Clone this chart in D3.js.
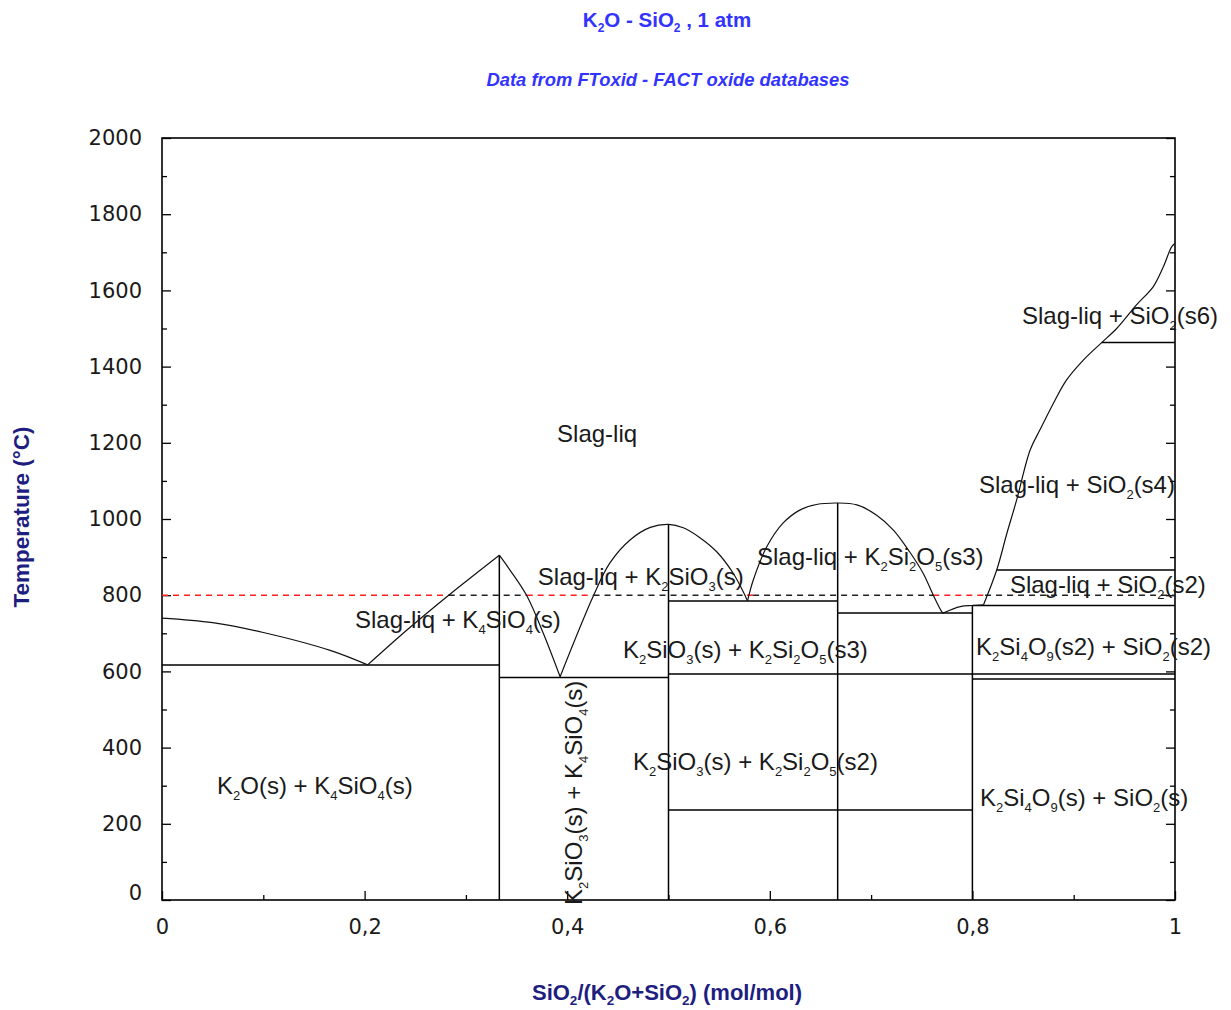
<!DOCTYPE html>
<html>
<head>
<meta charset="utf-8">
<script src="https://cdn.jsdelivr.net/npm/d3@7"></script>
<style>
  html, body { margin: 0; padding: 0; background: #fff; }
  svg { display: block; }
</style>
</head>
<body>
<svg id="chart" width="1231" height="1010"></svg>
<script>
// ---------------- DATA ----------------
const yTickValues = [0, 200, 400, 600, 800, 1000, 1200, 1400, 1600, 1800, 2000];
const yMinorTicks = [100, 300, 500, 700, 900, 1100, 1300, 1500, 1700, 1900];
const xTickValues = [0, 0.2, 0.4, 0.6, 0.8, 1];
const xTickLabels = ["0", "0,2", "0,4", "0,6", "0,8", "1"];
const xMinorTicks = [0.1, 0.3, 0.5, 0.7, 0.9];

// liquidus curves [x, T]
const liqK2O = [[0, 740], [0.05, 728], [0.1, 702], [0.166, 655], [0.203, 617]];
const liqK4SiO4a = [[0.203, 617], [0.2415, 708], [0.283, 800], [0.333, 905]];
const liqK4SiO4b = [[0.333, 905], [0.3435, 866], [0.36, 799], [0.3764, 700], [0.393, 586]];
const liqK2SiO3 = [[0.393, 586], [0.426, 799], [0.442, 884], [0.462, 945], [0.482, 978], [0.5, 986],
                   [0.5146, 977], [0.531, 951], [0.5476, 914], [0.564, 857], [0.5745, 805], [0.578, 785]];
const liqK2Si2O5 = [[0.578, 785], [0.5837, 840], [0.597, 927], [0.613, 989], [0.63, 1024], [0.646, 1038],
                    [0.667, 1042], [0.686, 1037], [0.7055, 1010], [0.722, 971], [0.738, 914],
                    [0.7515, 857], [0.7614, 800], [0.7697, 757], [0.771, 753]];
const liqK2Si4O9 = [[0.771, 753], [0.788, 770], [0.8, 773], [0.811, 775]];
const liqSiO2 = [[0.811, 775], [0.824, 866], [0.834, 962], [0.8437, 1050], [0.857, 1181], [0.8667, 1234],
                 [0.88, 1304], [0.893, 1365], [0.9095, 1417], [0.9276, 1463], [0.9424, 1500],
                 [0.962, 1562], [0.9786, 1610], [0.9885, 1662], [0.9968, 1715], [1, 1723]];
const liquidusCurves = [liqK2O, liqK4SiO4a, liqK4SiO4b, liqK2SiO3, liqK2Si2O5, liqK2Si4O9, liqSiO2];

// horizontal invariant lines [x1, x2, T]
const hLines = [[0, 0.333, 617], [0.333, 0.5, 584], [0.5, 0.667, 785], [0.667, 0.8, 753],
                [0.8, 1, 773], [0.824, 1, 866], [0.9276, 1, 1463], [0.5, 1, 593],
                [0.8, 1, 580], [0.5, 0.8, 236]];
// vertical compound lines [x, T1, T2]
const vLines = [[0.333, 0, 905], [0.5, 0, 986], [0.667, 0, 1042], [0.8, 0, 773]];

// 800 °C dashed line pieces [x1, x2, colour]
const dashT = 800;
const dashPieces = [[0, 0.283, "red"], [0.283, 0.36, "black"], [0.36, 0.426, "red"],
                    [0.426, 0.5775, "black"], [0.5775, 0.5835, "red"], [0.5835, 0.7614, "black"],
                    [0.7614, 0.8125, "red"], [0.8125, 1, "black"]];

// region labels: [text, x, T, rotated]
const regionLabels = [
  ["Slag-liq", 0.390, 1202, false],
  ["Slag-liq + K_4SiO_4(s)", 0.1905, 714, false],
  ["Slag-liq + K_2SiO_3(s)", 0.371, 827, false],
  ["Slag-liq + K_2Si_2O_5(s3)", 0.5874, 879, false],
  ["K_2SiO_3(s) + K_2Si_2O_5(s3)", 0.455, 635, false],
  ["K_2SiO_3(s) + K_2Si_2O_5(s2)", 0.465, 341, false],
  ["K_2O(s) + K_4SiO_4(s)", 0.0543, 278, false],
  ["Slag-liq + SiO_2(s6)", 0.849, 1512, false],
  ["Slag-liq + SiO_2(s4)", 0.8065, 1068, false],
  ["Slag-liq + SiO_2(s2)", 0.837, 806, false],
  ["K_2Si_4O_9(s2) + SiO_2(s2)", 0.8036, 643, false],
  ["K_2Si_4O_9(s) + SiO_2(s)", 0.8075, 247, false],
  ["K_2SiO_3(s) + K_4SiO_4(s)", 0.4146, -13, true]
];

const titleText = "K_2O - SiO_2 , 1 atm";
const subtitleText = "Data from FToxid - FACT oxide databases";
const xTitle = "SiO_2/(K_2O+SiO_2) (mol/mol)";
const yTitle = "Temperature (°C)";

// ---------------- DRAW ----------------
const svg = d3.select("#chart");
const x = d3.scaleLinear().domain([0, 1]).range([162, 1175]);
const y = d3.scaleLinear().domain([0, 2000]).range([900, 138]);

function rich(sel, str, subSize, off) {
  const parts = [];
  let buf = "";
  for (let i = 0; i < str.length; i++) {
    if (str[i] === "_" && i + 1 < str.length) {
      if (buf) parts.push({t: buf, sub: false});
      buf = "";
      parts.push({t: str[i + 1], sub: true});
      i++;
    } else buf += str[i];
  }
  if (buf) parts.push({t: buf, sub: false});
  let shifted = false;
  parts.forEach(p => {
    const ts = sel.append("tspan").text(p.t);
    if (p.sub) {
      ts.attr("font-size", subSize).attr("dy", shifted ? 0 : off);
      shifted = true;
    } else {
      if (shifted) ts.attr("dy", -off);
      shifted = false;
    }
  });
  return sel;
}

const sans = "Liberation Sans, Arial, sans-serif";

// title
rich(svg.append("text").attr("x", 667).attr("y", 27).attr("text-anchor", "middle")
  .attr("font-family", sans).attr("font-weight", "bold")
  .attr("font-size", 20.5).attr("fill", "#3333ff"), titleText, 12, 5);
svg.append("text").attr("x", 668).attr("y", 86).attr("text-anchor", "middle")
  .attr("font-family", sans).attr("font-weight", "bold")
  .attr("font-style", "italic").attr("font-size", 18.4).attr("fill", "#3333ff").text(subtitleText);

// axes titles
rich(svg.append("text").attr("x", 667).attr("y", 1000).attr("text-anchor", "middle")
  .attr("font-family", sans).attr("font-weight", "bold")
  .attr("font-size", 22).attr("fill", "#1e1e80"), xTitle, 13.5, 5);
svg.append("text").attr("transform", "translate(29,517) rotate(-90)").attr("text-anchor", "middle")
  .attr("font-family", sans).attr("font-weight", "bold")
  .attr("font-size", 22.5).attr("fill", "#1e1e80").text(yTitle);

// axes
const tickFont = "DejaVu Sans, Verdana, sans-serif";
const gL = svg.append("g").attr("transform", `translate(${x(0)},0)`)
  .call(d3.axisLeft(y).tickValues(yTickValues).tickSize(-9).tickSizeOuter(0).tickPadding(20).tickFormat(d3.format("d")));
const gLm = svg.append("g").attr("transform", `translate(${x(0)},0)`)
  .call(d3.axisLeft(y).tickValues(yMinorTicks).tickSize(-5).tickSizeOuter(0).tickFormat(""));
const gR = svg.append("g").attr("transform", `translate(${x(1)},0)`)
  .call(d3.axisRight(y).tickValues(yTickValues).tickSize(-9).tickSizeOuter(0).tickFormat(""));
const gRm = svg.append("g").attr("transform", `translate(${x(1)},0)`)
  .call(d3.axisRight(y).tickValues(yMinorTicks).tickSize(-5).tickSizeOuter(0).tickFormat(""));
const gB = svg.append("g").attr("transform", `translate(0,${y(0)})`)
  .call(d3.axisBottom(x).tickValues(xTickValues).tickSize(-9).tickSizeOuter(0).tickPadding(19)
    .tickFormat((d, i) => xTickLabels[i]));
const gBm = svg.append("g").attr("transform", `translate(0,${y(0)})`)
  .call(d3.axisBottom(x).tickValues(xMinorTicks).tickSize(-5).tickSizeOuter(0).tickFormat(""));
[gL, gLm, gR, gRm, gB, gBm].forEach(g => {
  g.select(".domain").remove();
  g.selectAll("line").attr("stroke", "#000").attr("stroke-width", 1.3);
  g.selectAll("text").attr("font-family", tickFont).attr("font-size", 21).attr("fill", "#1a1a1a");
});
gL.selectAll(".tick text").attr("dy", d => d === 0 ? "-0.02em" : "0.32em");

// frame
svg.append("rect").attr("x", x(0)).attr("y", y(2000)).attr("width", x(1) - x(0)).attr("height", y(0) - y(2000))
  .attr("fill", "none").attr("stroke", "#000").attr("stroke-width", 1.6);

// dashed 800 line
svg.append("g").selectAll("line").data(dashPieces).join("line")
  .attr("x1", d => x(d[0])).attr("x2", d => x(d[1])).attr("y1", y(dashT)).attr("y2", y(dashT))
  .attr("stroke", d => d[2] === "red" ? "#ff2020" : "#222").attr("stroke-width", 1.5)
  .attr("stroke-dasharray", "6,5");

// invariant lines
svg.append("g").selectAll("line").data(hLines).join("line")
  .attr("x1", d => x(d[0])).attr("x2", d => x(d[1])).attr("y1", d => y(d[2])).attr("y2", d => y(d[2]))
  .attr("stroke", "#000").attr("stroke-width", 1.5);
svg.append("g").selectAll("line").data(vLines).join("line")
  .attr("x1", d => x(d[0])).attr("x2", d => x(d[0])).attr("y1", d => y(d[1])).attr("y2", d => y(d[2]))
  .attr("stroke", "#000").attr("stroke-width", 1.5);

// liquidus
const line = d3.line().x(d => x(d[0])).y(d => y(d[1])).curve(d3.curveCatmullRom.alpha(0.5));
svg.append("g").selectAll("path").data(liquidusCurves).join("path")
  .attr("d", line).attr("fill", "none").attr("stroke", "#111").attr("stroke-width", 1.2);

// labels
regionLabels.forEach(([t, lx, lt, rot]) => {
  const el = svg.append("text")
    .attr("font-family", sans).attr("font-size", 24).attr("fill", "#1a1a1a");
  if (rot) el.attr("transform", `translate(${x(lx)},${y(lt)}) rotate(-90)`);
  else el.attr("x", x(lx)).attr("y", y(lt));
  rich(el, t, 13, 6);
});
</script>
</body>
</html>
